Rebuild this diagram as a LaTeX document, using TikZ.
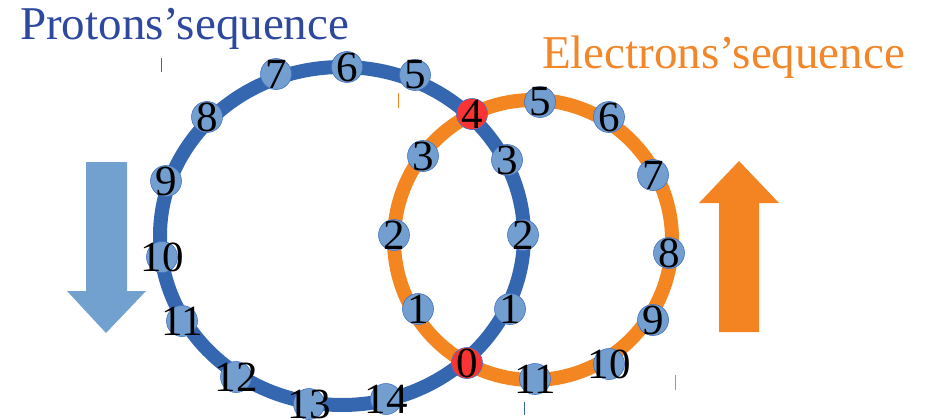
\documentclass[tikz,border=0pt]{standalone}
\usepackage{fontspec}
\setmainfont{Liberation Serif}
\definecolor{ringblue}{RGB}{52,103,176}
\definecolor{ringorange}{RGB}{244,134,33}
\definecolor{dotblue}{RGB}{114,159,207}
\definecolor{dotedge}{RGB}{68,114,196}
\definecolor{dotred}{RGB}{250,52,52}
\definecolor{titleblue}{RGB}{46,72,158}
\definecolor{titleorange}{RGB}{242,134,40}
\definecolor{arrowblue}{RGB}{114,160,207}
\definecolor{arroworange}{RGB}{244,131,33}
\tikzset{
  dotb/.style={circle,minimum size=31pt,inner sep=0pt,fill=dotblue,draw=dotedge,line width=0.6pt},
  dotr/.style={circle,minimum size=31pt,inner sep=0pt,fill=dotred,draw=dotedge,line width=0.6pt},
  num/.style={inner sep=0pt,font=\fontsize{43}{43}\selectfont,text=black},
  title/.style={inner sep=0pt,anchor=base west,font=\fontsize{47}{47}\selectfont},
  ring/.style={line width=14pt},
}
\newcommand\mydot[5]{%
  \node[#5] (#1) at (#2,#3) {};
  \node[num] (#1t) at (#1) {#4};
}
\begin{document}
\begin{tikzpicture}[x=1pt,y=-1pt]
\useasboundingbox (0,0) rectangle (931,420);
% rings
\draw[ring,ringorange] (533,240) ellipse [x radius=139pt, y radius=140pt];
\draw[ring,ringblue] (342,236) ellipse [x radius=182pt, y radius=169pt];
% titles
\node[title,text=titleblue] (tp) at (20,40) {Protons’sequence};
\node[title,text=titleorange] (te) at (542,69) {Electrons’sequence};
% arrows
\fill[arrowblue] (86,162) -- (127,162) -- (127,291) -- (146,291) -- (106,333) -- (67,291) -- (86,291) -- cycle;
\fill[arroworange] (719,332) -- (759,332) -- (759,203) -- (779,203) -- (739,161) -- (699,203) -- (719,203) -- cycle;
% small marks
\draw[ringblue,line width=1pt] (161,58) -- (161,72);
\draw[ringorange,line width=1pt] (398,93) -- (398,108);
\draw[ringorange,line width=1pt] (675,375) -- (675,390);
\draw[ringblue,line width=1pt] (524,402) -- (524,415);
% shared dots
\mydot{r0}{467}{363}{0}{dotr}
\mydot{r4}{472}{114}{4}{dotr}
% proton dots
\mydot{p1}{510}{309}{1}{dotb}
\mydot{p2}{523}{235}{2}{dotb}
\mydot{p3}{507}{160}{3}{dotb}
\mydot{p5}{415}{75}{5}{dotb}
\mydot{p6}{347}{67}{6}{dotb}
\mydot{p7}{276}{74}{7}{dotb}
\mydot{p8}{207}{117}{8}{dotb}
\mydot{p9}{166}{181}{9}{dotb}
\mydot{p10}{162}{257}{10}{dotb}
\mydot{p11}{182}{321}{11}{dotb}
\mydot{p12}{236}{377}{12}{dotb}
\mydot{p13}{309}{404}{13}{dotb}
\mydot{p14}{386}{399}{14}{dotb}
% electron dots
\mydot{e1}{418}{309}{1}{dotb}
\mydot{e2}{394}{235}{2}{dotb}
\mydot{e3}{423}{156}{3}{dotb}
\mydot{e5}{540}{102}{5}{dotb}
\mydot{e6}{609}{117}{6}{dotb}
\mydot{e7}{653}{175}{7}{dotb}
\mydot{e8}{669}{253}{8}{dotb}
\mydot{e9}{653}{320}{9}{dotb}
\mydot{e10}{609}{364}{10}{dotb}
\mydot{e11}{535}{379}{11}{dotb}
\end{tikzpicture}
\end{document}
